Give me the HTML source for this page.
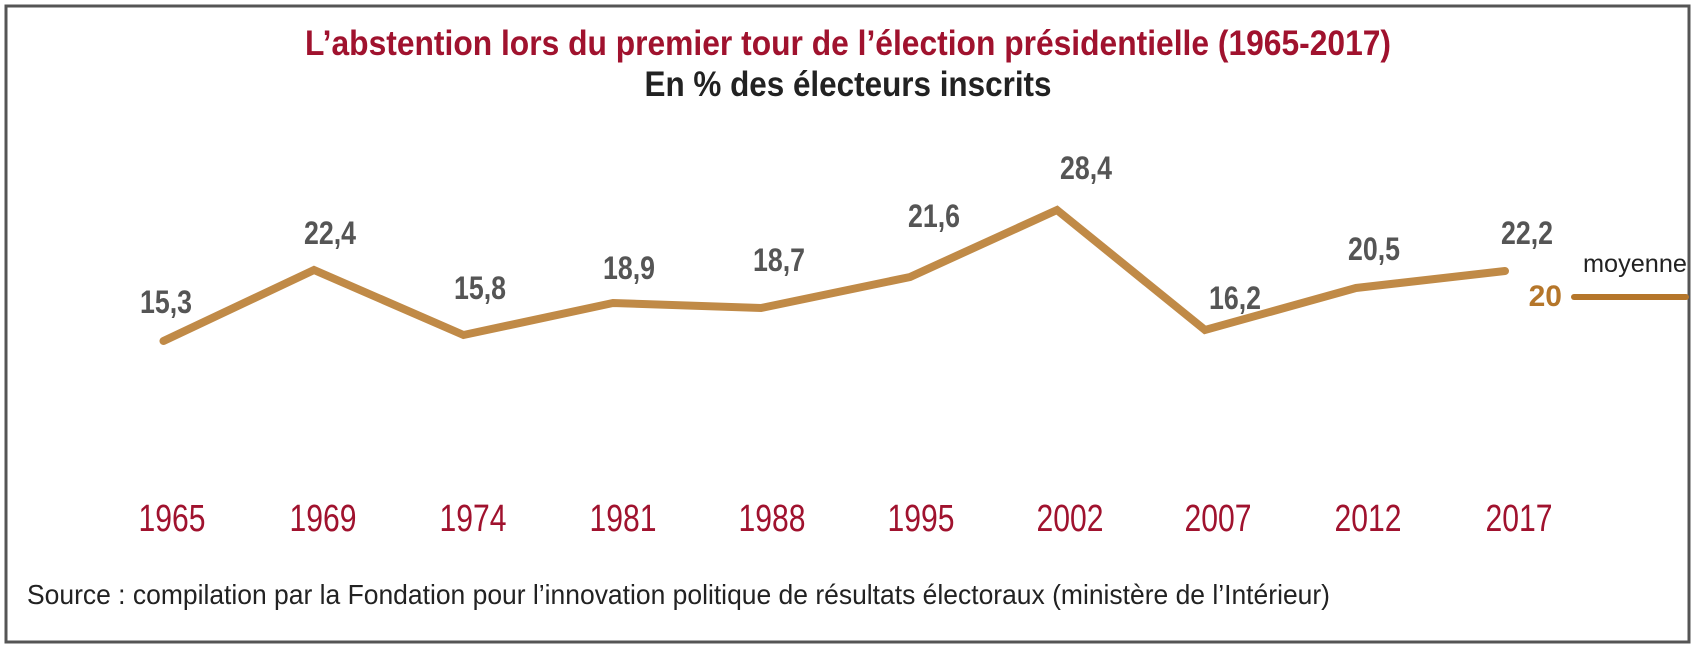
<!DOCTYPE html>
<html><head><meta charset="utf-8"><style>
html,body{margin:0;padding:0;background:#fff;}
svg{display:block;}
text{font-family:"Liberation Sans Narrow","Liberation Sans",sans-serif;}
</style></head><body>
<svg width="1698" height="651" viewBox="0 0 1698 651" xmlns="http://www.w3.org/2000/svg">
<rect x="6" y="6" width="1683" height="636" fill="#fff" stroke="#555" stroke-width="3"/>
<text x="848" y="55" text-anchor="middle" font-size="35" font-weight="bold" fill="#a0122e" textLength="1086" lengthAdjust="spacingAndGlyphs">L’abstention lors du premier tour de l’élection présidentielle (1965-2017)</text>
<text x="848" y="96" text-anchor="middle" font-size="35" font-weight="bold" fill="#222" textLength="407" lengthAdjust="spacingAndGlyphs">En % des électeurs inscrits</text>
<polyline points="163.5,341 314,270 463.5,335 613,303 761,308 910,277 1057,210 1205,330 1356,288 1505,271" fill="none" stroke="#c08a47" stroke-width="8" stroke-linecap="round" stroke-linejoin="miter"/>
<line x1="1574" y1="297" x2="1686" y2="297" stroke="#b5762a" stroke-width="6" stroke-linecap="round"/>
<text x="1562" y="306" text-anchor="end" font-size="30" font-weight="bold" fill="#b5762a">20</text>
<text x="1583" y="272" font-size="25" fill="#222" textLength="104" lengthAdjust="spacingAndGlyphs">moyenne</text>
<g font-size="32" font-weight="bold" fill="#555" text-anchor="middle">
<text x="166" y="313" textLength="52" lengthAdjust="spacingAndGlyphs">15,3</text>
<text x="330" y="244" textLength="52" lengthAdjust="spacingAndGlyphs">22,4</text>
<text x="480" y="299" textLength="52" lengthAdjust="spacingAndGlyphs">15,8</text>
<text x="629" y="279" textLength="52" lengthAdjust="spacingAndGlyphs">18,9</text>
<text x="779" y="271" textLength="52" lengthAdjust="spacingAndGlyphs">18,7</text>
<text x="934" y="227" textLength="52" lengthAdjust="spacingAndGlyphs">21,6</text>
<text x="1086" y="179" textLength="52" lengthAdjust="spacingAndGlyphs">28,4</text>
<text x="1235" y="309" textLength="52" lengthAdjust="spacingAndGlyphs">16,2</text>
<text x="1374" y="260" textLength="52" lengthAdjust="spacingAndGlyphs">20,5</text>
<text x="1527" y="244" textLength="52" lengthAdjust="spacingAndGlyphs">22,2</text>
</g>
<g font-size="38" fill="#a0122e" text-anchor="middle">
<text x="172" y="531" textLength="67" lengthAdjust="spacingAndGlyphs">1965</text>
<text x="323" y="531" textLength="67" lengthAdjust="spacingAndGlyphs">1969</text>
<text x="473" y="531" textLength="67" lengthAdjust="spacingAndGlyphs">1974</text>
<text x="623" y="531" textLength="67" lengthAdjust="spacingAndGlyphs">1981</text>
<text x="772" y="531" textLength="67" lengthAdjust="spacingAndGlyphs">1988</text>
<text x="921" y="531" textLength="67" lengthAdjust="spacingAndGlyphs">1995</text>
<text x="1070" y="531" textLength="67" lengthAdjust="spacingAndGlyphs">2002</text>
<text x="1218" y="531" textLength="67" lengthAdjust="spacingAndGlyphs">2007</text>
<text x="1368" y="531" textLength="67" lengthAdjust="spacingAndGlyphs">2012</text>
<text x="1519" y="531" textLength="67" lengthAdjust="spacingAndGlyphs">2017</text>
</g>
<text x="27" y="604" font-size="28" fill="#222" textLength="1303" lengthAdjust="spacingAndGlyphs">Source : compilation par la Fondation pour l’innovation politique de résultats électoraux (ministère de l’Intérieur)</text>
</svg>
</body></html>
